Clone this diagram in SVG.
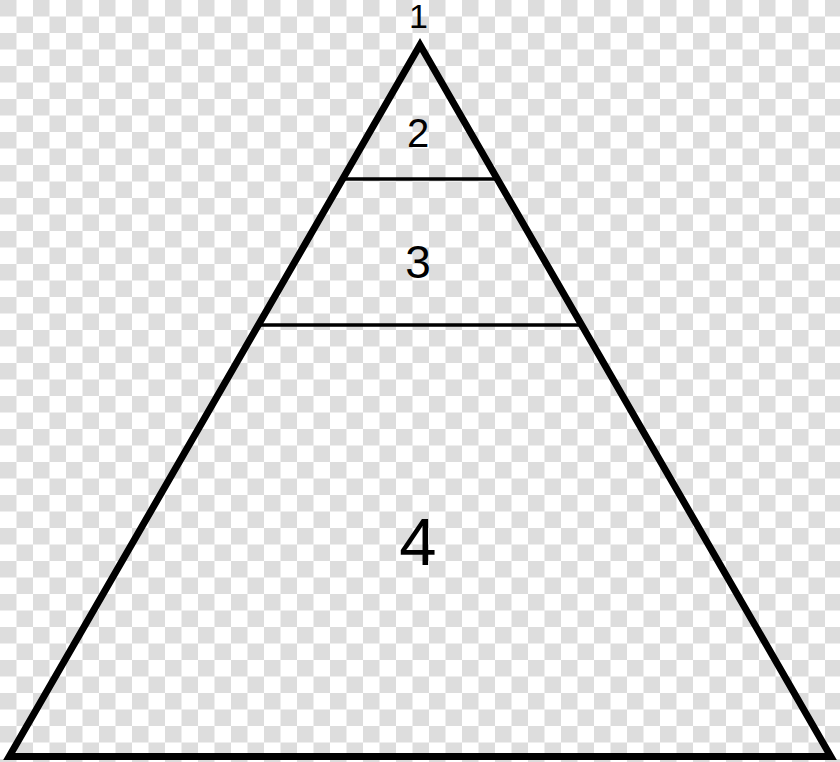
<svg xmlns="http://www.w3.org/2000/svg" width="840" height="762" viewBox="0 0 840 762">
  <defs>
    <pattern id="checker" x="0" y="0" width="33" height="33" patternUnits="userSpaceOnUse">
      <rect x="0" y="0" width="33" height="33" fill="#ffffff"/>
      <rect x="0" y="0" width="16.5" height="16.5" fill="#dddddd"/>
      <rect x="16.5" y="16.5" width="16.5" height="16.5" fill="#dddddd"/>
    </pattern>
  </defs>
  <style>
    .outline { fill: none; stroke: #000; stroke-width: 7; stroke-linejoin: miter; stroke-miterlimit: 10; }
    .band { fill: none; stroke: #000; stroke-width: 3.5; }
    .label { font-family: "Liberation Sans", Arial, sans-serif; fill: #000; text-anchor: middle; }
  </style>
  <rect id="background" x="0" y="0" width="840" height="762" fill="url(#checker)"/>
  <g id="triangle">
    <polygon class="outline" points="420,45 830.8,756.5 9.2,756.5"/>
  </g>
  <g id="connectors">
    <line class="band" x1="342.7" y1="179" x2="497.3" y2="179"/>
    <line class="band" x1="258.4" y1="325" x2="581.6" y2="325"/>
  </g>
  <g id="label-1"><text class="label" x="418.5" y="28" font-size="34">1</text></g>
  <g id="label-2"><text class="label" x="418" y="147" font-size="40">2</text></g>
  <g id="label-3"><text class="label" x="418" y="278" font-size="46">3</text></g>
  <g id="label-4"><text class="label" x="418" y="565" font-size="67">4</text></g>
</svg>
